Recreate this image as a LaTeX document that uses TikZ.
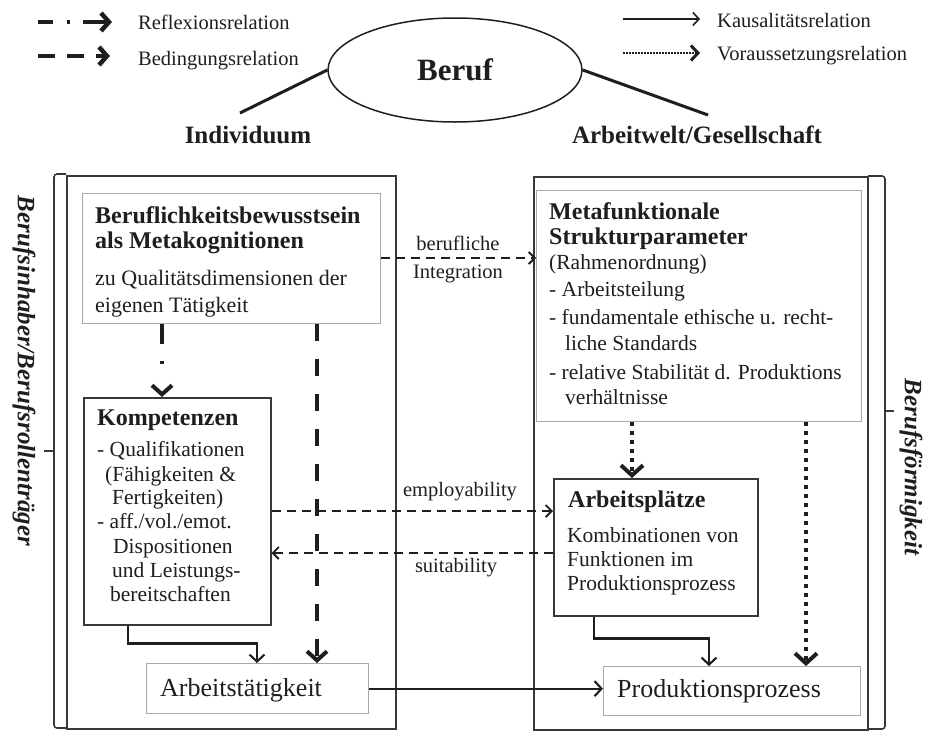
\documentclass[tikz,border=0pt]{standalone}
\usepackage{fontspec}
\setmainfont{Liberation Serif}
\usetikzlibrary{arrows.meta,shapes.geometric}
\definecolor{ink}{HTML}{1E1E1E}
\definecolor{frame}{HTML}{383838}
\definecolor{lframe}{HTML}{A8A8A8}
\newcommand\fBody{\fontsize{21.5pt}{25pt}\selectfont}
\newcommand\fBodyA{\fontsize{22pt}{26pt}\selectfont}
\newcommand\fHead{\fontsize{24pt}{28pt}\selectfont\bfseries}
\newcommand\fLeg{\fontsize{20.5pt}{24pt}\selectfont}
\newcommand\fTitle{\fontsize{25pt}{30pt}\selectfont\bfseries}
\newcommand\fBig{\fontsize{31pt}{36pt}\selectfont\bfseries}
\newcommand\fLarge{\fontsize{26pt}{30pt}\selectfont}
\begin{document}
\begin{tikzpicture}[x=1pt,y=-1pt,
  txt/.style={inner sep=0pt, anchor=base west, text=ink},
  lbl/.style={inner sep=0pt, anchor=base, text=ink, font=\fLeg},
  obox/.style={draw=frame, line width=1.6pt, anchor=north west, inner sep=0pt},
  gbox/.style={draw=lframe, line width=1.3pt, anchor=north west, inner sep=0pt},
  dbox/.style={draw=frame, line width=1.5pt, anchor=north west, inner sep=0pt},
  kaus/.style={draw=ink, line width=2.1pt, -{Straight Barb[length=7pt,width=15pt]}},
  bedThin/.style={draw=ink, line width=1.8pt, dash pattern=on 9pt off 6pt, -{Straight Barb[length=6pt,width=12pt]}},
  bedThick/.style={draw=ink, line width=4pt, dash pattern=on 17pt off 18pt, -{Straight Barb[length=9pt,width=20pt]}},
  reflThick/.style={draw=ink, line width=4pt, dash pattern=on 20pt off 17pt on 3pt off 100pt, -{Straight Barb[length=9pt,width=20pt]}},
  vorThick/.style={draw=ink, line width=4pt, dash pattern=on 4pt off 5pt, -{Straight Barb[length=10pt,width=22pt]}},
  brace/.style={draw=frame, line width=1.6pt, rounded corners=3pt}
]
\useasboundingbox (0,0) rectangle (926,731);

% ---------- legend ----------
\coordinate (la1) at (38,22);  \coordinate (lb1) at (112,22);
\coordinate (la2) at (38,56);  \coordinate (lb2) at (110,56);
\coordinate (la3) at (623,19); \coordinate (lb3) at (700,19);
\coordinate (la4) at (623,53); \coordinate (lb4) at (700,53);
\draw[draw=ink, line width=4.5pt, dash pattern=on 15pt off 14pt on 3pt off 13pt on 60pt, -{Straight Barb[length=8pt,width=18pt]}] (la1) -- (lb1);
\draw[draw=ink, line width=4.5pt, dash pattern=on 17pt off 12pt, -{Straight Barb[length=8pt,width=18pt]}] (la2) -- (lb2);
\draw[draw=ink, line width=1.6pt, -{Straight Barb[length=6pt,width=13pt]}] (la3) -- (lb3);
\draw[draw=ink, line width=1.6pt, dash pattern=on 1.5pt off 1.5pt, -{Straight Barb[length=7pt,width=15pt,line width=3pt]}] (la4) -- (lb4);
\node[txt,font=\fLeg] (lg1) at (138,29) {Reflexionsrelation};
\node[txt,font=\fLeg] (lg2) at (138,65) {Bedingungsrelation};
\node[txt,font=\fLeg] (lg3) at (717,27) {Kausalitätsrelation};
\node[txt,font=\fLeg] (lg4) at (717,60) {Voraussetzungsrelation};

% ---------- Beruf ----------
\node[draw=ink, line width=1.5pt, ellipse, minimum width=254pt, minimum height=104pt, inner sep=0pt, text=ink, font=\fBig] (beruf) at (455,70) {Beruf};
\coordinate (lend) at (240,113);
\coordinate (rend) at (708,115);
\draw[draw=ink, line width=3pt] (beruf.west) -- (lend);
\draw[draw=ink, line width=3pt] (beruf.east) -- (rend);
\node[inner sep=0pt, anchor=base, text=ink, font=\fTitle] (ind) at (248,143) {Individuum};
\node[inner sep=0pt, anchor=base, text=ink, font=\fTitle] (arb) at (697,143) {Arbeitwelt/Gesellschaft};

% ---------- outer frames and braces ----------
\node[obox, minimum width=329pt, minimum height=553pt] (L) at (66,175) {};
\node[obox, minimum width=334pt, minimum height=553pt] (R) at (533,176) {};
\draw[brace] (66,174) -- (54,174) -- (54,728) -- (66,728);
\draw[draw=frame, line width=1.6pt] (54,451) -- (44,451);
\draw[brace] (868,176) -- (885,176) -- (885,729) -- (868,729);
\draw[draw=frame, line width=1.6pt] (885,411) -- (894,411);
\node[inner sep=0pt, rotate=-90, text=ink, font=\fTitle\itshape] (sideL) at (24,371) {Berufsinhaber/Berufsrollenträger};
\node[inner sep=0pt, rotate=-90, text=ink, font=\fTitle\itshape] (sideR) at (911,467) {Berufsförmigkeit};

% ---------- inner boxes ----------
\node[gbox, minimum width=298pt, minimum height=130pt] (b1) at (82,193) {};
\node[gbox, minimum width=325pt, minimum height=231pt] (mf) at (536,190) {};
\node[dbox, minimum width=187pt, minimum height=227pt] (k) at (83,397) {};
\node[dbox, minimum width=204pt, minimum height=137pt] (ap) at (553,478) {};
\node[gbox, minimum width=222pt, minimum height=50pt] (at) at (146,663) {};
\node[gbox, minimum width=257pt, minimum height=49pt] (pp) at (603,666) {};

% box texts
\node[txt,font=\fHead] (b1a) at (95,223) {Beruflichkeitsbewusstsein};
\node[txt,font=\fHead] (b1b) at (95,248) {als Metakognitionen};
\node[txt,font=\fBodyA] (b1c) at (95,285) {zu Qualitätsdimensionen der};
\node[txt,font=\fBodyA] (b1d) at (95,312) {eigenen Tätigkeit};

\node[txt,font=\fHead] (mfa) at (549,219) {Metafunktionale};
\node[txt,font=\fHead] (mfb) at (549,244) {Strukturparameter};
\node[txt,font=\fBody] (mfc) at (549,269) {(Rahmenordnung)};
\node[txt,font=\fBody] (mfd) at (549,296) {- Arbeitsteilung};
\node[txt,font=\fBody] (mfe) at (549,324) {- fundamentale ethische u. recht-};
\node[txt,font=\fBody] (mff) at (565,350) {liche Standards};
\node[txt,font=\fBody] (mfg) at (549,379) {- relative Stabilität d. Produktions};
\node[txt,font=\fBody] (mfh) at (565,404) {verhältnisse};

\node[txt,font=\fHead] (ka) at (97,425) {Kompetenzen};
\node[txt,font=\fBody] (kb) at (97,456) {- Qualifikationen};
\node[txt,font=\fBody] (kc) at (105,481) {(Fähigkeiten \&};
\node[txt,font=\fBody] (kd) at (112,504) {Fertigkeiten)};
\node[txt,font=\fBody] (ke) at (97,528) {- aff./vol./emot.};
\node[txt,font=\fBody] (kf) at (113,553) {Dispositionen};
\node[txt,font=\fBody] (kg) at (112,577) {und Leistungs-};
\node[txt,font=\fBody] (kh) at (110,601) {bereitschaften};

\node[txt,font=\fHead] (apa) at (568,507) {Arbeitsplätze};
\node[txt,font=\fBody] (apb) at (567,542) {Kombinationen von};
\node[txt,font=\fBody] (apc) at (567,566) {Funktionen im};
\node[txt,font=\fBody] (apd) at (567,590) {Produktionsprozess};

\node[txt,font=\fLarge] (ata) at (160,696) {Arbeitstätigkeit};
\node[txt,font=\fLarge] (ppa) at (617,697) {Produktionsprozess};

% ---------- connectors ----------
\draw[reflThick] ([xshift=80pt]b1.south west) -- ([xshift=79pt]k.north west);
\draw[bedThick] ([xshift=235pt]b1.south west) -- ([xshift=171pt]at.north west);
\draw[bedThin] ([yshift=-65pt]b1.north east) -- ([yshift=-65pt]b1.north east -| mf.west);
\draw[bedThin] ([yshift=-114pt]k.north east) -- ([yshift=-114pt]k.north east -| ap.west);
\draw[bedThin] ([yshift=-75pt]ap.north west) -- ([yshift=-75pt]ap.north west -| k.east);
\draw[vorThick] ([xshift=96pt]mf.south west) -- ([xshift=79pt]ap.north west);
\draw[vorThick] ([xshift=270pt]mf.south west) -- ([xshift=203pt]pp.north west);
\draw[kaus] ([xshift=45pt]k.south west) -- ++(0,18) -| ([xshift=111pt]at.north west);
\draw[kaus] ([xshift=41pt]ap.south west) -- ++(0,22) -| ([xshift=106pt]pp.north west);
\draw[kaus] (at.east) -- (at.east -| pp.west);

\node[lbl] (lint1) at (458,250) {berufliche};
\node[lbl] (lint2) at (458,278) {Integration};
\node[lbl] (lemp) at (460,496) {employability};
\node[lbl] (lsui) at (456,572) {suitability};
\end{tikzpicture}
\end{document}
